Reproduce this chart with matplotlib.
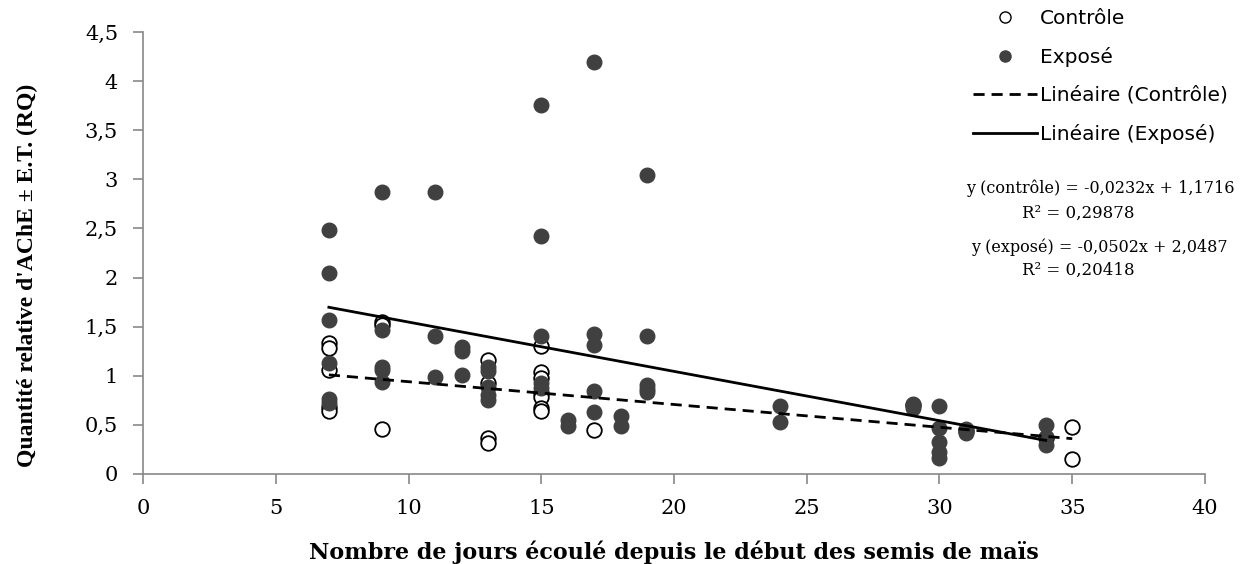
import numpy as np
import matplotlib.pyplot as plt
from matplotlib.lines import Line2D

# Contrôle (cercles vides)
x_ctrl = [7, 7, 7, 7, 7, 9, 9, 9, 13, 13, 13, 13,
          15, 15, 15, 15, 15, 15, 15, 17, 29, 31, 34, 35, 35]
y_ctrl = [1.33, 1.28, 1.06, 0.68, 0.64, 1.55, 1.52, 0.46, 1.16, 0.93, 0.37, 0.32,
          1.30, 1.04, 0.98, 0.82, 0.78, 0.67, 0.64, 0.45, 0.70, 0.44, 0.37, 0.48, 0.15]

# Exposé (cercles pleins)
x_expo = [7, 7, 7, 7, 7, 7, 9, 9, 9, 9, 9, 11, 11, 11, 12, 12, 12,
          13, 13, 13, 13, 13, 15, 15, 15, 15, 15, 16, 16,
          17, 17, 17, 17, 17, 18, 18, 19, 19, 19, 19, 19,
          24, 24, 29, 29, 30, 30, 30, 30, 30, 31, 31, 34, 34, 34]
y_expo = [2.48, 2.05, 1.57, 1.13, 0.76, 0.72, 2.87, 1.47, 1.09, 1.06, 0.94,
          2.87, 1.40, 0.99, 1.29, 1.25, 1.01,
          1.09, 1.05, 0.89, 0.80, 0.75, 3.76, 2.42, 1.40, 0.93, 0.88, 0.55, 0.49,
          4.19, 1.43, 1.31, 0.84, 0.63, 0.59, 0.49, 3.04, 1.40, 0.91, 0.87, 0.83,
          0.69, 0.53, 0.71, 0.67, 0.69, 0.47, 0.33, 0.22, 0.16, 0.46, 0.42,
          0.50, 0.38, 0.30]

# droites de tendance (Excel)
a_ctrl, b_ctrl, r2_ctrl = -0.0232, 1.1716, '0,29878'
a_expo, b_expo, r2_expo = -0.0502, 2.0487, '0,20418'

xticks = [0, 5, 10, 15, 20, 25, 30, 35, 40]
yticks = [0, 0.5, 1, 1.5, 2, 2.5, 3, 3.5, 4, 4.5]
ylabels = ['0', '0,5', '1', '1,5', '2', '2,5', '3', '3,5', '4', '4,5']

serif = 'DejaVu Serif'
serif2 = 'Liberation Serif'
sans = 'DejaVu Sans'

fig = plt.figure(figsize=(12.47, 5.64), dpi=100)
ax = fig.add_axes([0.1147, 0.1596, 0.8516, 0.7837])

ax.scatter(x_ctrl, y_ctrl, s=110, facecolor='white', edgecolor='black', linewidth=1.3, zorder=3)
ax.scatter(x_expo, y_expo, s=110, facecolor='#404040', edgecolor='#404040', linewidth=1, zorder=4)

xc = np.array([min(x_ctrl), max(x_ctrl)])
xe = np.array([min(x_expo), max(x_expo)])
ax.plot(xc, a_ctrl * xc + b_ctrl, color='black', linestyle=(0, (4, 2.5)), linewidth=2, zorder=5)
ax.plot(xe, a_expo * xe + b_expo, color='black', linestyle='-', linewidth=2, zorder=5)

ax.set_xlim(0, 40)
ax.set_ylim(0, 4.5)
ax.set_xticks(xticks)
ax.set_xticklabels([str(v) for v in xticks], fontfamily=serif, fontsize=15)
ax.set_yticks(yticks)
ax.set_yticklabels(ylabels, fontfamily=serif, fontsize=15)
for s in ['top', 'right']:
    ax.spines[s].set_visible(False)
for s in ['left', 'bottom']:
    ax.spines[s].set_color('#888888')
    ax.spines[s].set_linewidth(1.2)
ax.tick_params(axis='both', direction='out', length=7, color='#888888', width=1.2, pad=11)

ax.set_xlabel('Nombre de jours écoulé depuis le début des semis de maïs',
              fontfamily=serif, fontsize=16, fontweight='bold', labelpad=16)
ax.set_ylabel("Quantité relative d'AChE ± E.T. (RQ)",
              fontfamily=serif2, fontsize=17, fontweight='bold')
ax.yaxis.set_label_coords(-0.099, 0.45)

handles = [
    Line2D([], [], marker='o', linestyle='none', markerfacecolor='white', markeredgecolor='black', markersize=8),
    Line2D([], [], marker='o', linestyle='none', markerfacecolor='#404040', markeredgecolor='#404040', markersize=8),
    Line2D([], [], color='black', linestyle=(0, (4, 2.5)), linewidth=2),
    Line2D([], [], color='black', linestyle='-', linewidth=2),
]
labels = ['Contrôle', 'Exposé', 'Linéaire (Contrôle)', 'Linéaire (Exposé)']
fig.legend(handles, labels, loc='upper left', bbox_to_anchor=(0.780, 0.984),
           frameon=False, prop={'family': sans, 'size': 14.5},
           borderpad=0, borderaxespad=0,
           handlelength=3.18, handletextpad=0.15, labelspacing=0.94)

fig.text(0.882, 0.667, 'y (contrôle) = -0,0232x + 1,1716',
         ha='center', va='center', fontfamily=serif, fontsize=11.5)
fig.text(0.865, 0.622, 'R² = ' + r2_ctrl,
         ha='center', va='center', fontfamily=serif, fontsize=12)
fig.text(0.882, 0.562, 'y (exposé) = -0,0502x + 2,0487',
         ha='center', va='center', fontfamily=serif, fontsize=11.5)
fig.text(0.865, 0.521, 'R² = ' + r2_expo,
         ha='center', va='center', fontfamily=serif, fontsize=12)

fig.savefig('out.png', dpi=100)
